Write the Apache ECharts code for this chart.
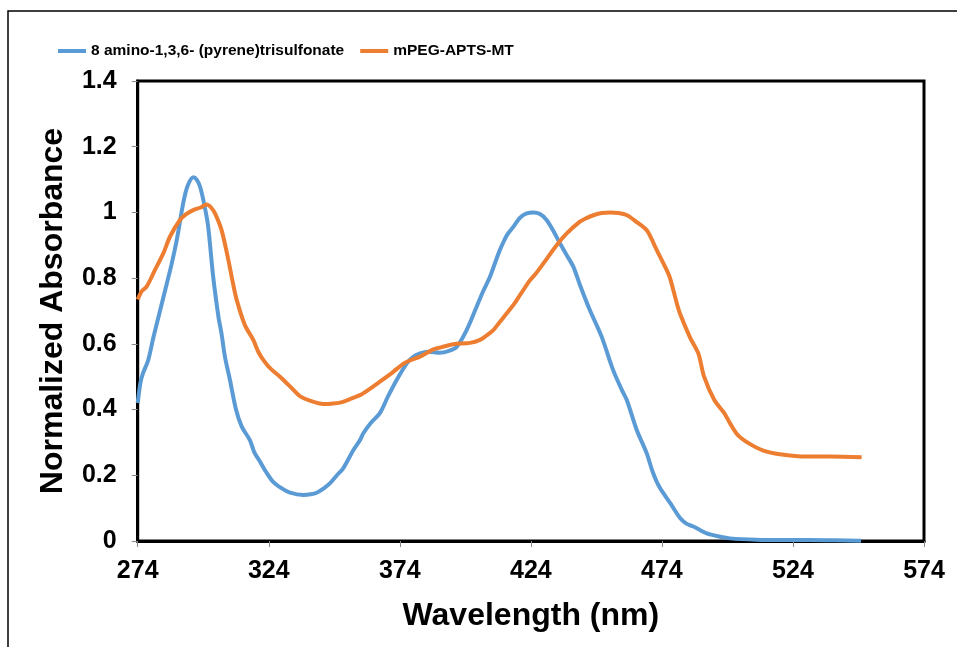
<!DOCTYPE html>
<html>
<head>
<meta charset="utf-8">
<script src="https://cdn.jsdelivr.net/npm/echarts@6/dist/echarts.min.js"></script>
<style>
html,body{margin:0;padding:0;background:#fff;}
#chart{width:957px;height:647px;}
</style>
</head>
<body>
<div id="chart"></div>
<script>
const seriesNames = ['8 amino-1,3,6- (pyrene)trisulfonate', 'mPEG-APTS-MT'];
const xAxisTitle = 'Wavelength (nm)';
const yAxisTitle = 'Normalized Absorbance';

const blueWavelength = [274,275,276,278,280,282.5,285,287,289,291.4,293,295.2,296.5,297.8,299.5,300.9,302.8,304.8,306,307.3,309.2,311.5,313.7,316.8,318.5,320.7,323,325.7,329,332.1,337.2,340,342.3,345,347.4,350,352.4,356.3,358.8,360.1,363,366.4,369.5,372.8,376.6,379,381.7,385,389.3,392.5,395.7,399.5,403.3,405.8,408.4,410.5,412.2,414.8,417.3,420,422.4,425,427.5,430,432.5,435.1,437.7,440.2,442.7,446.5,451,455.4,458.7,460.6,464.4,468.2,470.5,473,477.2,481,483.5,486,491.1,496.2,500,510,520,530,540,550];
const blueAbsorbance = [0.42,0.48,0.51,0.55,0.62,0.70,0.78,0.845,0.92,1.03,1.08,1.107,1.10,1.078,1.02,0.956,0.804,0.683,0.63,0.56,0.49,0.40,0.348,0.307,0.27,0.241,0.21,0.18,0.16,0.147,0.14,0.142,0.147,0.16,0.176,0.20,0.221,0.277,0.307,0.328,0.36,0.389,0.44,0.49,0.54,0.56,0.571,0.576,0.573,0.578,0.591,0.642,0.713,0.76,0.804,0.85,0.886,0.93,0.956,0.985,0.997,1.0,0.995,0.977,0.945,0.906,0.87,0.835,0.78,0.703,0.622,0.52,0.46,0.429,0.338,0.267,0.21,0.165,0.115,0.069,0.052,0.044,0.023,0.013,0.008,0.004,0.003,0.003,0.002,0.001];

const orangeWavelength = [274,275.5,277.4,280.6,283.8,286.3,290.1,292.5,295.2,298,300.3,302,303.5,306,308.6,310.2,311.8,314.9,318.1,320,321.9,324.5,328.3,333.4,336,339.7,344.8,348,351.2,355,358.8,362,366.4,371.5,375.3,378,381.7,386.8,390,394.4,400.8,404.6,407,409.7,412,414.8,417.5,419.9,423.7,426,428.8,433.9,437.7,442.7,445,448.4,451,454.3,457.5,460.5,464,468.2,470,472,475.8,477.1,479.7,481,484.7,487.9,490.1,494,497.8,500,502.9,507.2,512.7,519,529.2,538.1,550.2];
const orangeAbsorbance = [0.735,0.76,0.774,0.825,0.876,0.926,0.977,0.995,1.007,1.015,1.024,1.015,0.997,0.946,0.855,0.79,0.733,0.657,0.612,0.576,0.551,0.526,0.50,0.46,0.44,0.427,0.417,0.418,0.421,0.432,0.444,0.46,0.485,0.515,0.539,0.55,0.561,0.583,0.59,0.599,0.603,0.612,0.625,0.642,0.665,0.693,0.72,0.749,0.794,0.815,0.845,0.901,0.936,0.972,0.982,0.993,0.998,1.0,0.998,0.992,0.973,0.946,0.92,0.886,0.825,0.80,0.723,0.69,0.62,0.571,0.50,0.429,0.389,0.358,0.323,0.297,0.275,0.264,0.257,0.257,0.255];

const xMin = 274, xMax = 574, xStep = 50;
const yMin = 0, yMax = 1.4, yStep = 0.2;
const colors = ['#5B9BD5', '#ED7D31'];

function pairs(xs, ys){ return xs.map((x,i)=>[x, ys[i]]); }

const chart = echarts.init(document.getElementById('chart'), null, {renderer:'canvas'});
const font = "'Liberation Sans', Arial, sans-serif";
chart.setOption({
  animation: false,
  backgroundColor: '#fff',
  color: colors,
  graphic: [{
    type: 'rect', shape: {x: 8, y: 11, width: 1000, height: 700},
    style: {fill: null, stroke: '#000', lineWidth: 1.5}, z: 0, silent: true
  }],
  legend: {
    left: 58, top: 43, padding: 0,
    itemWidth: 28, itemHeight: 4, itemGap: 16,
    icon: 'rect',
    textStyle: {fontFamily: font, fontWeight: 'bold', fontSize: 15.5, color: '#000'},
    data: seriesNames
  },
  grid: {
    left: 137.7, right: 33, top: 81, bottom: 106,
    show: true, borderColor: '#000', borderWidth: 3, containLabel: false
  },
  xAxis: {
    type: 'value', min: xMin, max: xMax, interval: xStep,
    name: xAxisTitle, nameLocation: 'middle', nameGap: 59,
    nameTextStyle: {fontFamily: font, fontWeight: 'bold', fontSize: 32, color: '#000'},
    axisLine: {show: true, lineStyle: {color: '#000', width: 3}},
    axisTick: {show: true, inside: false, length: 6, lineStyle: {color: '#888', width: 1}},
    axisLabel: {fontFamily: font, fontWeight: 'bold', fontSize: 25, color: '#000', margin: 18},
    splitLine: {show: false}
  },
  yAxis: {
    type: 'value', min: yMin, max: yMax, interval: yStep,
    name: yAxisTitle, nameLocation: 'middle', nameGap: 69, nameRotate: 90,
    nameTextStyle: {fontFamily: font, fontWeight: 'bold', fontSize: 32, color: '#000'},
    axisLine: {show: true, lineStyle: {color: '#000', width: 3}},
    axisTick: {show: true, inside: false, length: 6, lineStyle: {color: '#888', width: 1}},
    axisLabel: {fontFamily: font, fontWeight: 'bold', fontSize: 25, color: '#000', margin: 21,
      formatter: v => String(+v.toFixed(1))},
    splitLine: {show: false}
  },
  series: [
    {name: seriesNames[0], type: 'line', data: pairs(blueWavelength, blueAbsorbance), smooth: 0.3, showSymbol: false, lineStyle: {width: 4, color: colors[0]}},
    {name: seriesNames[1], type: 'line', data: pairs(orangeWavelength, orangeAbsorbance), smooth: 0.3, showSymbol: false, lineStyle: {width: 4, color: colors[1]}}
  ]
});
</script>
</body>
</html>
